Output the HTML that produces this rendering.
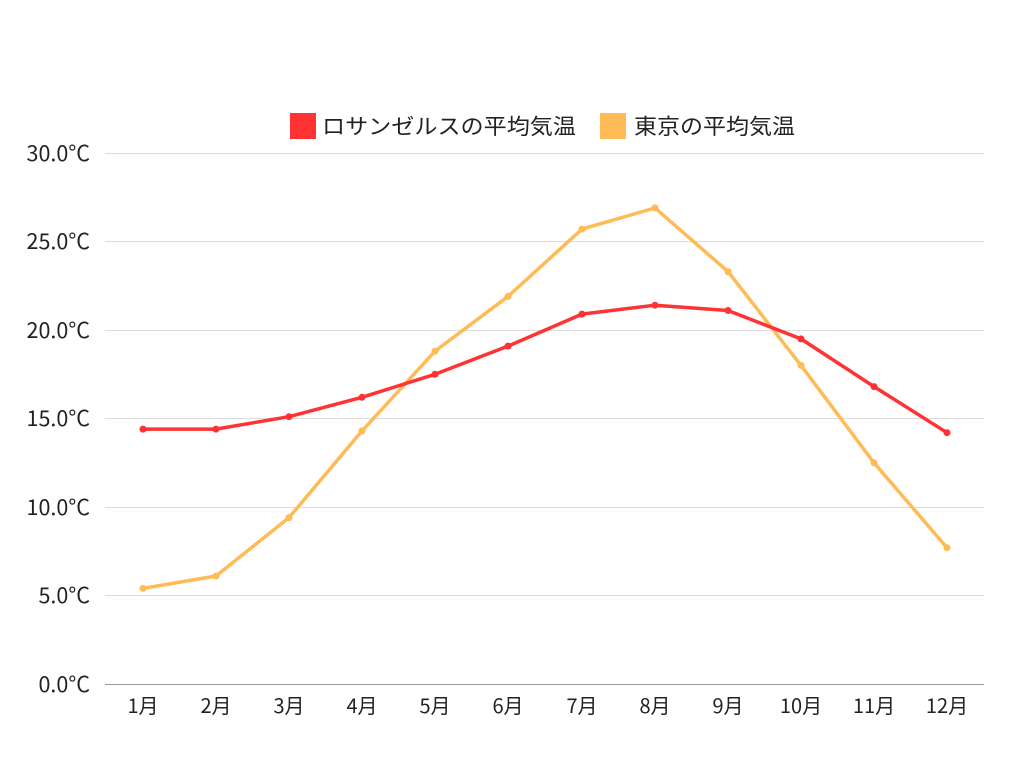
<!DOCTYPE html>
<html><head><meta charset="utf-8"><style>
body{margin:0;background:#fff}
svg text{font-family:"Noto Sans CJK JP",sans-serif;fill:#222}
</style></head><body>
<svg width="1024" height="768" xmlns="http://www.w3.org/2000/svg">
<g stroke="#dcdcdc" stroke-width="1">
<line x1="105" x2="984" y1="153.5" y2="153.5"/>
<line x1="105" x2="984" y1="241.5" y2="241.5"/>
<line x1="105" x2="984" y1="330.5" y2="330.5"/>
<line x1="105" x2="984" y1="418.5" y2="418.5"/>
<line x1="105" x2="984" y1="507.5" y2="507.5"/>
<line x1="105" x2="984" y1="595.5" y2="595.5"/>
</g>
<line x1="105" x2="984" y1="684.5" y2="684.5" stroke="#999"/>
<g font-size="21.5" text-anchor="end">
<text x="90" y="161">30.0°C</text>
<text x="90" y="249">25.0°C</text>
<text x="90" y="338">20.0°C</text>
<text x="90" y="426">15.0°C</text>
<text x="90" y="515">10.0°C</text>
<text x="90" y="603">5.0°C</text>
<text x="90" y="692">0.0°C</text>
</g>
<g font-size="20" text-anchor="middle">
<text x="143" y="713">1月</text><text x="216" y="713">2月</text><text x="289" y="713">3月</text>
<text x="362" y="713">4月</text><text x="435" y="713">5月</text><text x="508" y="713">6月</text>
<text x="582" y="713">7月</text><text x="655" y="713">8月</text><text x="728" y="713">9月</text>
<text x="801" y="713">10月</text><text x="874" y="713">11月</text><text x="947" y="713">12月</text>
</g>
<rect x="290" y="113" width="26" height="26" fill="#ff3333"/>
<text x="322" y="134" font-size="21.5" textLength="254" lengthAdjust="spacingAndGlyphs">ロサンゼルスの平均気温</text>
<rect x="600" y="113" width="26" height="26" fill="#ffbb55"/>
<text x="634" y="134" font-size="21.5" textLength="161" lengthAdjust="spacingAndGlyphs">東京の平均気温</text>
<polyline fill="none" stroke="#ffbb55" stroke-width="3.5" stroke-linejoin="round" points="143,588.4 216,576 289,517.6 362,430.9 435,351.2 508,296.4 582,229.1 655,207.9 728,271.6 801,365.4 874,462.8 947,547.7"/>
<g fill="#ffbb55">
<circle cx="143" cy="588.4" r="3.5"/><circle cx="216" cy="576" r="3.5"/><circle cx="289" cy="517.6" r="3.5"/><circle cx="362" cy="430.9" r="3.5"/><circle cx="435" cy="351.2" r="3.5"/><circle cx="508" cy="296.4" r="3.5"/><circle cx="582" cy="229.1" r="3.5"/><circle cx="655" cy="207.9" r="3.5"/><circle cx="728" cy="271.6" r="3.5"/><circle cx="801" cy="365.4" r="3.5"/><circle cx="874" cy="462.8" r="3.5"/><circle cx="947" cy="547.7" r="3.5"/>
</g>
<polyline fill="none" stroke="#ff3333" stroke-width="3.5" stroke-linejoin="round" points="143,429.1 216,429.1 289,416.7 362,397.3 435,374.3 508,346.1 582,314.1 655,305.2 728,310.5 801,338.9 874,386.6 947,432.7"/>
<g fill="#ff3333">
<circle cx="143" cy="429.1" r="3.5"/><circle cx="216" cy="429.1" r="3.5"/><circle cx="289" cy="416.7" r="3.5"/><circle cx="362" cy="397.3" r="3.5"/><circle cx="435" cy="374.3" r="3.5"/><circle cx="508" cy="346.1" r="3.5"/><circle cx="582" cy="314.1" r="3.5"/><circle cx="655" cy="305.2" r="3.5"/><circle cx="728" cy="310.5" r="3.5"/><circle cx="801" cy="338.9" r="3.5"/><circle cx="874" cy="386.6" r="3.5"/><circle cx="947" cy="432.7" r="3.5"/>
</g>
</svg>
</body></html>
